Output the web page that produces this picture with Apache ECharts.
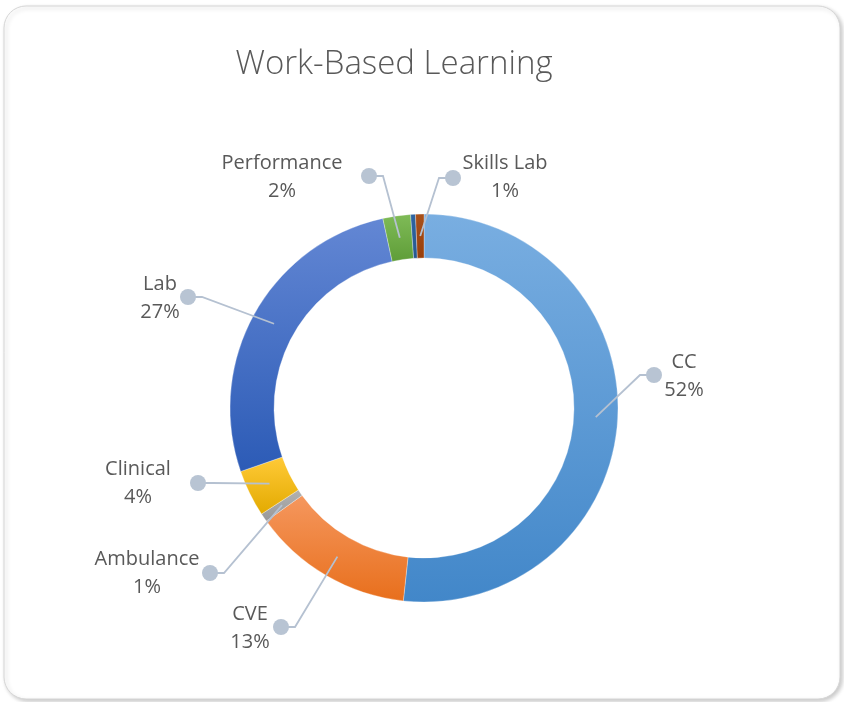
<!DOCTYPE html>
<html>
<head>
<meta charset="utf-8">
<title>Work-Based Learning</title>
<script src="https://cdn.jsdelivr.net/npm/echarts@6/dist/echarts.min.js"></script>
<style>
  html, body { margin: 0; padding: 0; background: #fff; }
  #chart { width: 844px; height: 702px; }
</style>
</head>
<body>
<div id="chart"></div>
<script>
// data (share of work-based learning, %)
const categories = ['CC', 'CVE', 'Ambulance', 'Clinical', 'Lab', 'Performance', 'Other', 'Skills Lab'];
const values = [51.7, 13.4, 0.7, 3.9, 26.9, 2.3, 0.4, 0.7];
const showLabel = [true, true, true, true, true, true, false, true];

// ring geometry
const CX = 424, CY = 408, R_IN = 150, R_OUT = 194;

const colors = [
  ['#79aee1', '#4287c9'],
  ['#f5975e', '#e86f1c'],
  ['#b2b2b2', '#989898'],
  ['#ffca38', '#e3aa00'],
  ['#6387d4', '#2c5bb6'],
  ['#7fbb57', '#5f9d38'],
  ['#2f64a2', '#27588f'],
  ['#a9511b', '#983f0b']
];

// label centres and leader-line dots
const labelPos = [[684, 376], [250, 628], [147, 573], [138, 483], [160, 298], [282, 177], null, [505, 177]];
const dotPos = [[654, 375], [281, 627], [210, 573], [198, 483], [188, 297], [369, 176], null, [453, 178]];

const total = values.reduce((a, b) => a + b, 0);

function anchorPoint(i) {
  let before = 0;
  for (let j = 0; j < i; j++) before += values[j];
  const ang = (before + values[i] / 2) / total * Math.PI * 2;
  const r = (R_IN + R_OUT) / 2;
  return [CX + r * Math.sin(ang), CY - r * Math.cos(ang)];
}

const chart = echarts.init(document.getElementById('chart'));

const graphics = [
  {
    type: 'rect',
    z: -10,
    shape: { x: 4, y: 6, width: 836, height: 693, r: 22 },
    style: {
      fill: '#fff', stroke: '#d6d6d6', lineWidth: 1,
      shadowBlur: 4, shadowOffsetX: 2, shadowOffsetY: 2, shadowColor: 'rgba(0,0,0,0.22)'
    }
  }
];

categories.forEach((name, i) => {
  if (!showLabel[i]) return;
  const a = anchorPoint(i);
  const d = dotPos[i];
  const side = d[0] < a[0] ? 1 : -1;
  graphics.push({
    type: 'polyline',
    z: 50,
    shape: { points: [a, [d[0] + side * 14, d[1]], d] },
    style: { stroke: '#b5c1d1', lineWidth: 1.8, fill: null }
  });
  graphics.push({
    type: 'circle',
    z: 51,
    shape: { cx: d[0], cy: d[1], r: 8 },
    style: { fill: '#b8c4d3' }
  });
});

const option = {
  animation: false,
  title: {
    text: 'Work-Based Learning',
    left: 389,
    top: 43,
    textAlign: 'center',
    textStyle: {
      fontFamily: 'Open Sans',
      fontWeight: 300,
      fontSize: 33,
      color: '#595959'
    }
  },
  graphic: graphics,
  series: [
    {
      type: 'pie',
      center: [CX, CY],
      radius: [R_IN, R_OUT],
      startAngle: 90,
      clockwise: true,
      avoidLabelOverlap: false,
      itemStyle: { borderColor: 'rgba(255,255,255,0.6)', borderWidth: 0.5 },
      label: {
        show: true,
        position: 'outside',
        fontFamily: 'Open Sans',
        fontSize: 20,
        lineHeight: 28,
        color: '#595959',
        formatter: p => p.name + '\n' + Math.round(p.percent) + '%'
      },
      labelLine: { show: false },
      labelLayout: function (params) {
        const p = labelPos[params.dataIndex];
        if (!p) return {};
        return { x: p[0], y: p[1], align: 'center', verticalAlign: 'middle' };
      },
      data: categories.map((name, i) => ({
        name: name,
        value: values[i],
        label: { show: showLabel[i] },
        itemStyle: {
          color: new echarts.graphic.LinearGradient(0, 0, 0, 1, [
            { offset: 0, color: colors[i][0] },
            { offset: 1, color: colors[i][1] }
          ])
        }
      }))
    }
  ]
};

chart.setOption(option);
</script>
</body>
</html>
